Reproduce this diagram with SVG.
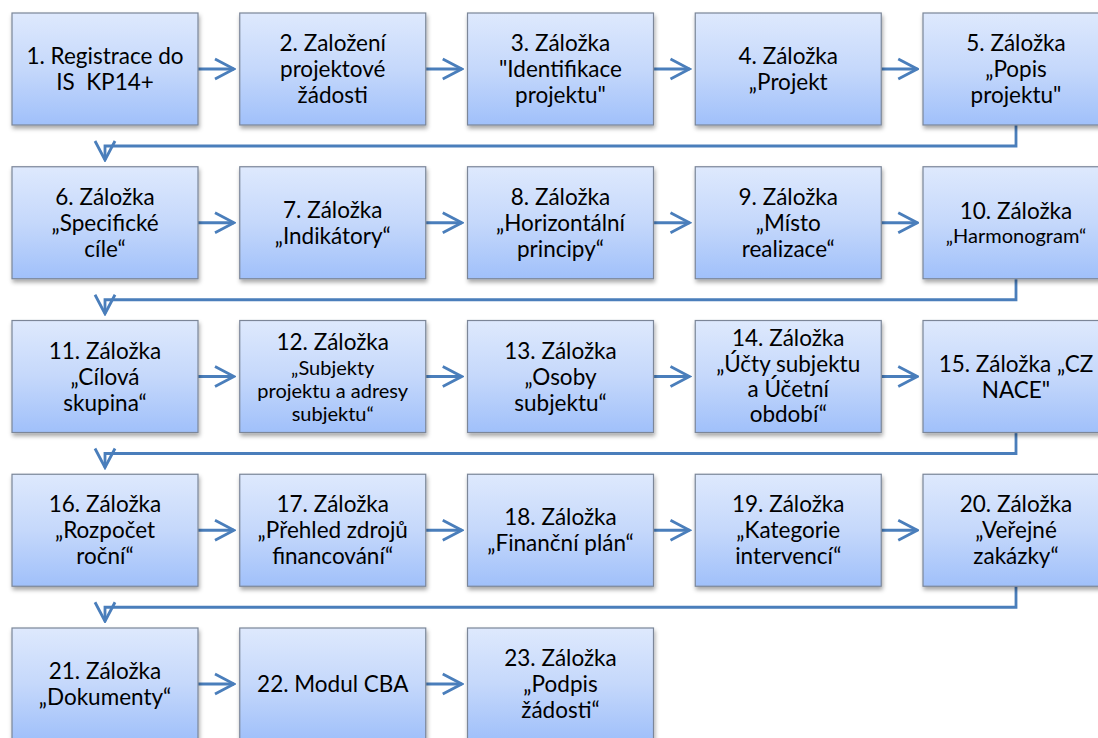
<svg xmlns="http://www.w3.org/2000/svg" width="1098" height="738" viewBox="0 0 1098 738">
<defs>
<linearGradient id="g" x1="0" y1="0" x2="0" y2="1">
<stop offset="0" stop-color="#dee9fd"/>
<stop offset="0.5" stop-color="#c5d8fb"/>
<stop offset="1" stop-color="#a0c0fa"/>
</linearGradient>
<filter id="sh" x="-10%" y="-10%" width="125%" height="130%">
<feDropShadow dx="1" dy="3" stdDeviation="2" flood-color="#000" flood-opacity="0.35"/>
</filter>
<marker id="ah" viewBox="-22 -12 24 24" refX="0" refY="0" markerWidth="24" markerHeight="24" markerUnits="userSpaceOnUse" orient="auto">
<path d="M-19,-10 L0,0 L-19,10" fill="none" stroke="#4a7ebb" stroke-width="2.8"/>
</marker>
<style>
.b{fill:url(#g);stroke:#7b8698;stroke-width:1.2;filter:url(#sh)}
.t{font-family:Lato,"Open Sans",sans-serif;font-size:22.5px;fill:#000;text-anchor:middle}
.s{font-size:20px}
.c{fill:none;stroke:#4a7ebb;stroke-width:2.8;marker-end:url(#ah)}
</style>
</defs>
<rect width="1098" height="738" fill="#fff"/>
<g id="connectors">
<path class="c" d="M198,69H234"/><path class="c" d="M425.75,69H461.75"/><path class="c" d="M653.5,69H689.5"/><path class="c" d="M881.25,69H917.25"/>
<path class="c" d="M1016,125V146H105V160"/>
<path class="c" d="M198,222.75H234"/><path class="c" d="M425.75,222.75H461.75"/><path class="c" d="M653.5,222.75H689.5"/><path class="c" d="M881.25,222.75H917.25"/>
<path class="c" d="M1016,278.75V299.75H105V313.75"/>
<path class="c" d="M198,376.5H234"/><path class="c" d="M425.75,376.5H461.75"/><path class="c" d="M653.5,376.5H689.5"/><path class="c" d="M881.25,376.5H917.25"/>
<path class="c" d="M1016,432.5V453.5H105V467.5"/>
<path class="c" d="M198,530.25H234"/><path class="c" d="M425.75,530.25H461.75"/><path class="c" d="M653.5,530.25H689.5"/><path class="c" d="M881.25,530.25H917.25"/>
<path class="c" d="M1016,586.25V607.25H105V621.25"/>
<path class="c" d="M198,684H234"/><path class="c" d="M425.75,684H461.75"/>
</g>
<g id="n1"><rect class="b" x="12" y="13" width="186" height="112"/><text class="t" x="105" y="64">1. Registrace do</text><text class="t" x="105" y="90" xml:space="preserve">IS  KP14+</text></g>
<g id="n2"><rect class="b" x="239.75" y="13" width="186" height="112"/><text class="t" x="332.75" y="51">2. Založení</text><text class="t" x="332.75" y="77">projektové</text><text class="t" x="332.75" y="103">žádosti</text></g>
<g id="n3"><rect class="b" x="467.5" y="13" width="186" height="112"/><text class="t" x="560.5" y="51">3. Záložka</text><text class="t" x="560.5" y="77">"Identifikace</text><text class="t" x="560.5" y="103">projektu"</text></g>
<g id="n4"><rect class="b" x="695.25" y="13" width="186" height="112"/><text class="t" x="788.25" y="64">4. Záložka</text><text class="t" x="788.25" y="90">„Projekt</text></g>
<g id="n5"><rect class="b" x="923" y="13" width="186" height="112"/><text class="t" x="1016" y="51">5. Záložka</text><text class="t" x="1016" y="77">„Popis</text><text class="t" x="1016" y="103">projektu"</text></g>

<g id="n6"><rect class="b" x="12" y="166.75" width="186" height="112"/><text class="t" x="105" y="204.75">6. Záložka</text><text class="t" x="105" y="230.75">„Specifické</text><text class="t" x="105" y="256.75">cíle“</text></g>
<g id="n7"><rect class="b" x="239.75" y="166.75" width="186" height="112"/><text class="t" x="332.75" y="217.75">7. Záložka</text><text class="t" x="332.75" y="243.75">„Indikátory“</text></g>
<g id="n8"><rect class="b" x="467.5" y="166.75" width="186" height="112"/><text class="t" x="560.5" y="204.75">8. Záložka</text><text class="t" x="560.5" y="230.75">„Horizontální</text><text class="t" x="560.5" y="256.75">principy“</text></g>
<g id="n9"><rect class="b" x="695.25" y="166.75" width="186" height="112"/><text class="t" x="788.25" y="204.75">9. Záložka</text><text class="t" x="788.25" y="230.75">„Místo</text><text class="t" x="788.25" y="256.75">realizace“</text></g>
<g id="n10"><rect class="b" x="923" y="166.75" width="186" height="112"/><text class="t" x="1016" y="219">10. Záložka</text><text class="t s" x="1016" y="243">„Harmonogram“</text></g>

<g id="n11"><rect class="b" x="12" y="320.5" width="186" height="112"/><text class="t" x="105" y="358.5">11. Záložka</text><text class="t" x="105" y="384.5">„Cílová</text><text class="t" x="105" y="410.5">skupina“</text></g>
<g id="n12"><rect class="b" x="239.75" y="320.5" width="186" height="112"/><text class="t" x="332.75" y="350">12. Záložka</text><text class="t s" x="332.75" y="375">„Subjekty</text><text class="t s" x="332.75" y="398">projektu a adresy</text><text class="t s" x="332.75" y="421">subjektu“</text></g>
<g id="n13"><rect class="b" x="467.5" y="320.5" width="186" height="112"/><text class="t" x="560.5" y="358.5">13. Záložka</text><text class="t" x="560.5" y="384.5">„Osoby</text><text class="t" x="560.5" y="410.5">subjektu“</text></g>
<g id="n14"><rect class="b" x="695.25" y="320.5" width="186" height="112"/><text class="t" x="788.25" y="346">14. Záložka</text><text class="t" x="788.25" y="372">„Účty subjektu</text><text class="t" x="788.25" y="397">a Účetní</text><text class="t" x="788.25" y="422">období“</text></g>
<g id="n15"><rect class="b" x="923" y="320.5" width="186" height="112"/><text class="t" x="1016" y="372">15. Záložka „CZ</text><text class="t" x="1016" y="398">NACE"</text></g>

<g id="n16"><rect class="b" x="12" y="474.25" width="186" height="112"/><text class="t" x="105" y="512.25">16. Záložka</text><text class="t" x="105" y="538.25">„Rozpočet</text><text class="t" x="105" y="564.25">roční“</text></g>
<g id="n17"><rect class="b" x="239.75" y="474.25" width="186" height="112"/><text class="t" x="332.75" y="512.25">17. Záložka</text><text class="t" x="332.75" y="538.25">„Přehled zdrojů</text><text class="t" x="332.75" y="564.25">financování“</text></g>
<g id="n18"><rect class="b" x="467.5" y="474.25" width="186" height="112"/><text class="t" x="560.5" y="525.25">18. Záložka</text><text class="t" x="560.5" y="551.25">„Finanční plán“</text></g>
<g id="n19"><rect class="b" x="695.25" y="474.25" width="186" height="112"/><text class="t" x="788.25" y="512.25">19. Záložka</text><text class="t" x="788.25" y="538.25">„Kategorie</text><text class="t" x="788.25" y="564.25">intervencí“</text></g>
<g id="n20"><rect class="b" x="923" y="474.25" width="186" height="112"/><text class="t" x="1016" y="512.25">20. Záložka</text><text class="t" x="1016" y="538.25">„Veřejné</text><text class="t" x="1016" y="564.25">zakázky“</text></g>

<g id="n21"><rect class="b" x="12" y="628" width="186" height="112"/><text class="t" x="105" y="679">21. Záložka</text><text class="t" x="105" y="705">„Dokumenty“</text></g>
<g id="n22"><rect class="b" x="239.75" y="628" width="186" height="112"/><text class="t" x="332.75" y="692">22. Modul CBA</text></g>
<g id="n23"><rect class="b" x="467.5" y="628" width="186" height="112"/><text class="t" x="560.5" y="666">23. Záložka</text><text class="t" x="560.5" y="692">„Podpis</text><text class="t" x="560.5" y="718">žádosti“</text></g>
</svg>
